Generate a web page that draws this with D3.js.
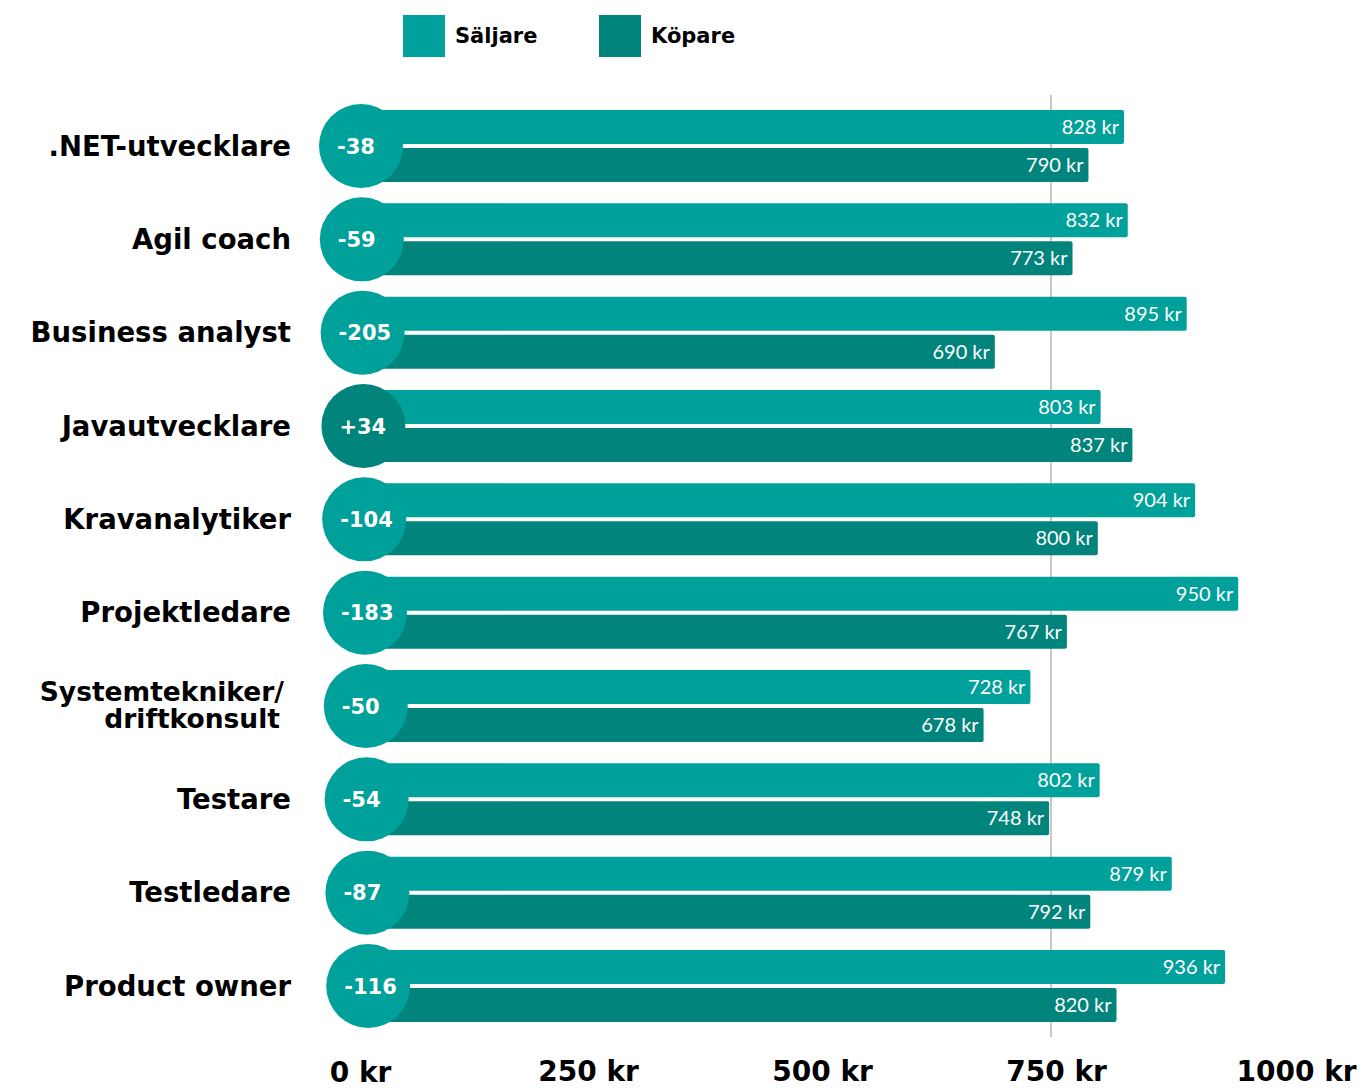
<!DOCTYPE html>
<html>
<head>
<meta charset="utf-8">
<script src="https://cdn.jsdelivr.net/npm/d3@7"></script>
<style>
  body { margin: 0; background: #fff; }
  svg { display: block; }
</style>
</head>
<body>
<div id="chart"></div>
<script>
const roles = [
  ".NET-utvecklare",
  "Agil coach",
  "Business analyst",
  "Javautvecklare",
  "Kravanalytiker",
  "Projektledare",
  "Systemtekniker/driftkonsult",
  "Testare",
  "Testledare",
  "Product owner",
];
const saljare = [828, 832, 895, 803, 904, 950, 728, 802, 879, 936];
const kopare = [790, 773, 690, 837, 800, 767, 678, 748, 792, 820];
const tickValues = [0, 250, 500, 750, 1000];
const seriesNames = ["Säljare", "Köpare"];

const colSalj = "#00a09b";
const colKop = "#00847b";
const heavy = "'DejaVu Sans', sans-serif";

const width = 1363, height = 1088;

const data = roles.map((r, i) => ({
  role: r,
  salj: saljare[i],
  kop: kopare[i],
  diff: kopare[i] - saljare[i],
  i: i,
}));

const svg = d3.select("#chart").append("svg")
  .attr("width", width)
  .attr("height", height);

const x = d3.scaleLinear().domain([0, 1000]).range([349, 1285]);
const y = d3.scalePoint().domain(roles).range([146, 986]);

// 750 kr gridline, behind the bars
svg.append("line")
  .attr("x1", x(750)).attr("x2", x(750))
  .attr("y1", 95).attr("y2", 1037)
  .attr("stroke", "#c8c8c8")
  .attr("stroke-width", 2);

const row = svg.append("g").selectAll("g")
  .data(data)
  .join("g")
  .attr("transform", d => `translate(0,${y(d.role)})`);

row.append("rect")
  .attr("x", x(0))
  .attr("y", -36)
  .attr("width", d => x(d.salj) - x(0))
  .attr("height", 34)
  .attr("rx", 2)
  .attr("fill", colSalj);

row.append("rect")
  .attr("x", x(0))
  .attr("y", 2)
  .attr("width", d => x(d.kop) - x(0))
  .attr("height", 34)
  .attr("rx", 2)
  .attr("fill", colKop);

row.append("text")
  .attr("x", d => x(d.salj) - 5)
  .attr("y", -19)
  .attr("dy", "0.35em")
  .attr("text-anchor", "end")
  .attr("fill", "#fff")
  .style("font-family", "Lato, sans-serif")
  .style("font-size", "20px")
  .text(d => d.salj + " kr");

row.append("text")
  .attr("x", d => x(d.kop) - 5)
  .attr("y", 19)
  .attr("dy", "0.35em")
  .attr("text-anchor", "end")
  .attr("fill", "#fff")
  .style("font-family", "Lato, sans-serif")
  .style("font-size", "20px")
  .text(d => d.kop + " kr");

// difference circles
const cx = d => 361 + d.i * 0.8;
row.append("circle")
  .attr("cx", cx)
  .attr("cy", 0)
  .attr("r", 42)
  .attr("fill", d => d.diff > 0 ? colKop : colSalj);

row.append("text")
  .attr("x", d => cx(d) - 24)
  .attr("y", 0)
  .attr("dy", "0.36em")
  .attr("fill", "#fff")
  .style("font-family", heavy)
  .style("font-weight", "bold")
  .style("font-size", "21px")
  .text(d => (d.diff > 0 ? "+" : "") + d.diff);

// role labels
const label = row.append("text")
  .attr("x", 291)
  .attr("text-anchor", "end")
  .attr("fill", "#000")
  .style("font-family", heavy)
  .style("font-weight", "bold")
  .style("font-size", "27.5px");

label.each(function (d) {
  const parts = d.role.includes("/") ? [d.role.split("/")[0] + "/", d.role.split("/")[1]] : [d.role];
  const t = d3.select(this);
  if (parts.length === 1) {
    t.attr("y", 0).attr("dy", "0.35em").text(parts[0]);
  } else {
    t.style("font-size", "26.5px")
      .selectAll("tspan")
      .data(parts)
      .join("tspan")
      .attr("x", (p, k) => k === 0 ? 284 : 280)
      .attr("y", (p, k) => k === 0 ? -5 : 22)
      .text(p => p);
  }
});

// x axis
const xAxis = d3.axisBottom(x)
  .tickValues(tickValues)
  .tickFormat(d => d + " kr")
  .tickSize(0);

svg.append("g")
  .attr("transform", "translate(0,1081)")
  .call(xAxis)
  .call(g => g.select(".domain").remove())
  .call(g => g.selectAll(".tick text")
    .attr("y", d => d === 0 ? 1 : 0)
    .attr("dy", 0)
    .attr("dx", d => d === 0 || d === 1000 ? 11 : 5)
    .attr("fill", "#000")
    .style("font-family", heavy)
    .style("font-weight", "bold")
    .style("font-size", "28px"));

// legend
const legend = svg.append("g").selectAll("g")
  .data(seriesNames)
  .join("g")
  .attr("transform", (d, i) => `translate(${403 + i * 196},15)`);

legend.append("rect")
  .attr("width", 42)
  .attr("height", 42)
  .attr("fill", (d, i) => i === 0 ? colSalj : colKop);

legend.append("text")
  .attr("x", 52)
  .attr("y", 21)
  .attr("dy", "0.35em")
  .attr("fill", "#000")
  .style("font-family", heavy)
  .style("font-weight", "bold")
  .style("font-size", "21px")
  .text(d => d);
</script>
</body>
</html>
